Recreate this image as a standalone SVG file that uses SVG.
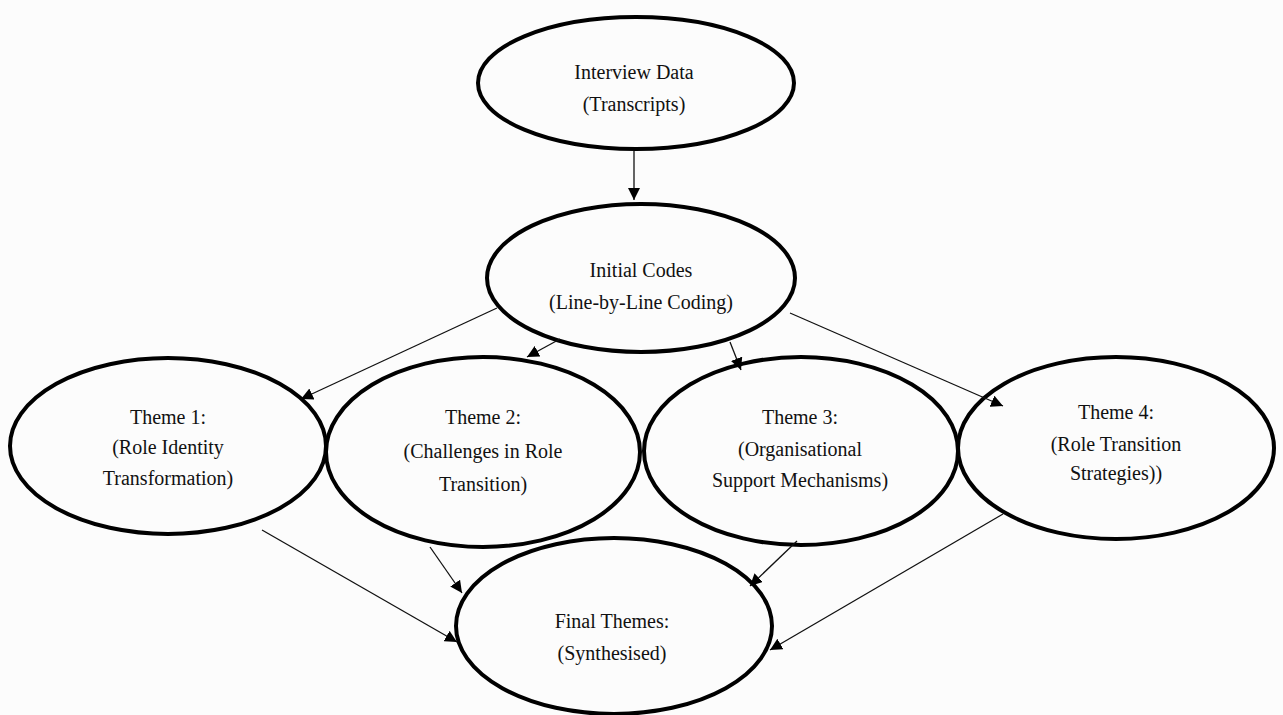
<svg xmlns="http://www.w3.org/2000/svg" width="1283" height="715" viewBox="0 0 1283 715">
<style>
.n{fill:none;stroke:#000;stroke-width:4}
.t{font-family:"Liberation Serif","Times New Roman",serif;font-size:20px;fill:#111;text-anchor:middle}
.c{stroke:#111;stroke-width:1.3;fill:none;marker-end:url(#ah)}
</style>
<defs>
<marker id="ah" viewBox="0 0 10 10" refX="10" refY="5" markerWidth="12" markerHeight="12" markerUnits="userSpaceOnUse" orient="auto">
<path d="M0,0 L10,5 L0,10 z" fill="#000"/>
</marker>
</defs>
<rect width="1283" height="715" fill="#fcfcfc"/>
<g id="interview">
<ellipse class="n" cx="636" cy="83" rx="158" ry="66"/>
<text class="t" x="634" y="79">Interview Data</text>
<text class="t" x="634" y="111">(Transcripts)</text>
</g>
<g id="initial">
<ellipse class="n" cx="641" cy="278" rx="154" ry="74"/>
<text class="t" x="641" y="277">Initial Codes</text>
<text class="t" x="641" y="309">(Line-by-Line Coding)</text>
</g>
<g id="theme1">
<ellipse class="n" cx="168" cy="446" rx="158" ry="88"/>
<text class="t" x="168" y="424">Theme 1:</text>
<text class="t" x="168" y="454">(Role Identity</text>
<text class="t" x="168" y="485">Transformation)</text>
</g>
<g id="theme2">
<ellipse class="n" cx="483" cy="452" rx="157" ry="95"/>
<text class="t" x="483" y="424">Theme 2:</text>
<text class="t" x="483" y="458">(Challenges in Role</text>
<text class="t" x="483" y="491">Transition)</text>
</g>
<g id="theme3">
<ellipse class="n" cx="801" cy="451" rx="157" ry="94"/>
<text class="t" x="800" y="424">Theme 3:</text>
<text class="t" x="800" y="456">(Organisational</text>
<text class="t" x="800" y="487">Support Mechanisms)</text>
</g>
<g id="theme4">
<ellipse class="n" cx="1116" cy="448" rx="158" ry="91"/>
<text class="t" x="1116" y="419">Theme 4:</text>
<text class="t" x="1116" y="451">(Role Transition</text>
<text class="t" x="1116" y="480">Strategies))</text>
</g>
<g id="final">
<ellipse class="n" cx="614" cy="626" rx="158" ry="88"/>
<text class="t" x="612" y="628">Final Themes:</text>
<text class="t" x="612" y="660">(Synthesised)</text>
</g>
<g id="connectors">
<line class="c" x1="634" y1="151" x2="634" y2="200"/>
<line class="c" x1="497" y1="308" x2="301" y2="399"/>
<line class="c" x1="560" y1="339" x2="527" y2="357"/>
<line class="c" x1="730" y1="342" x2="741" y2="370"/>
<line class="c" x1="790" y1="313" x2="1003" y2="406"/>
<line class="c" x1="262" y1="530" x2="457" y2="642"/>
<line class="c" x1="430" y1="547" x2="462" y2="593"/>
<line class="c" x1="797" y1="541" x2="750" y2="586"/>
<line class="c" x1="1003" y1="514" x2="770" y2="650"/>
</g>
</svg>
